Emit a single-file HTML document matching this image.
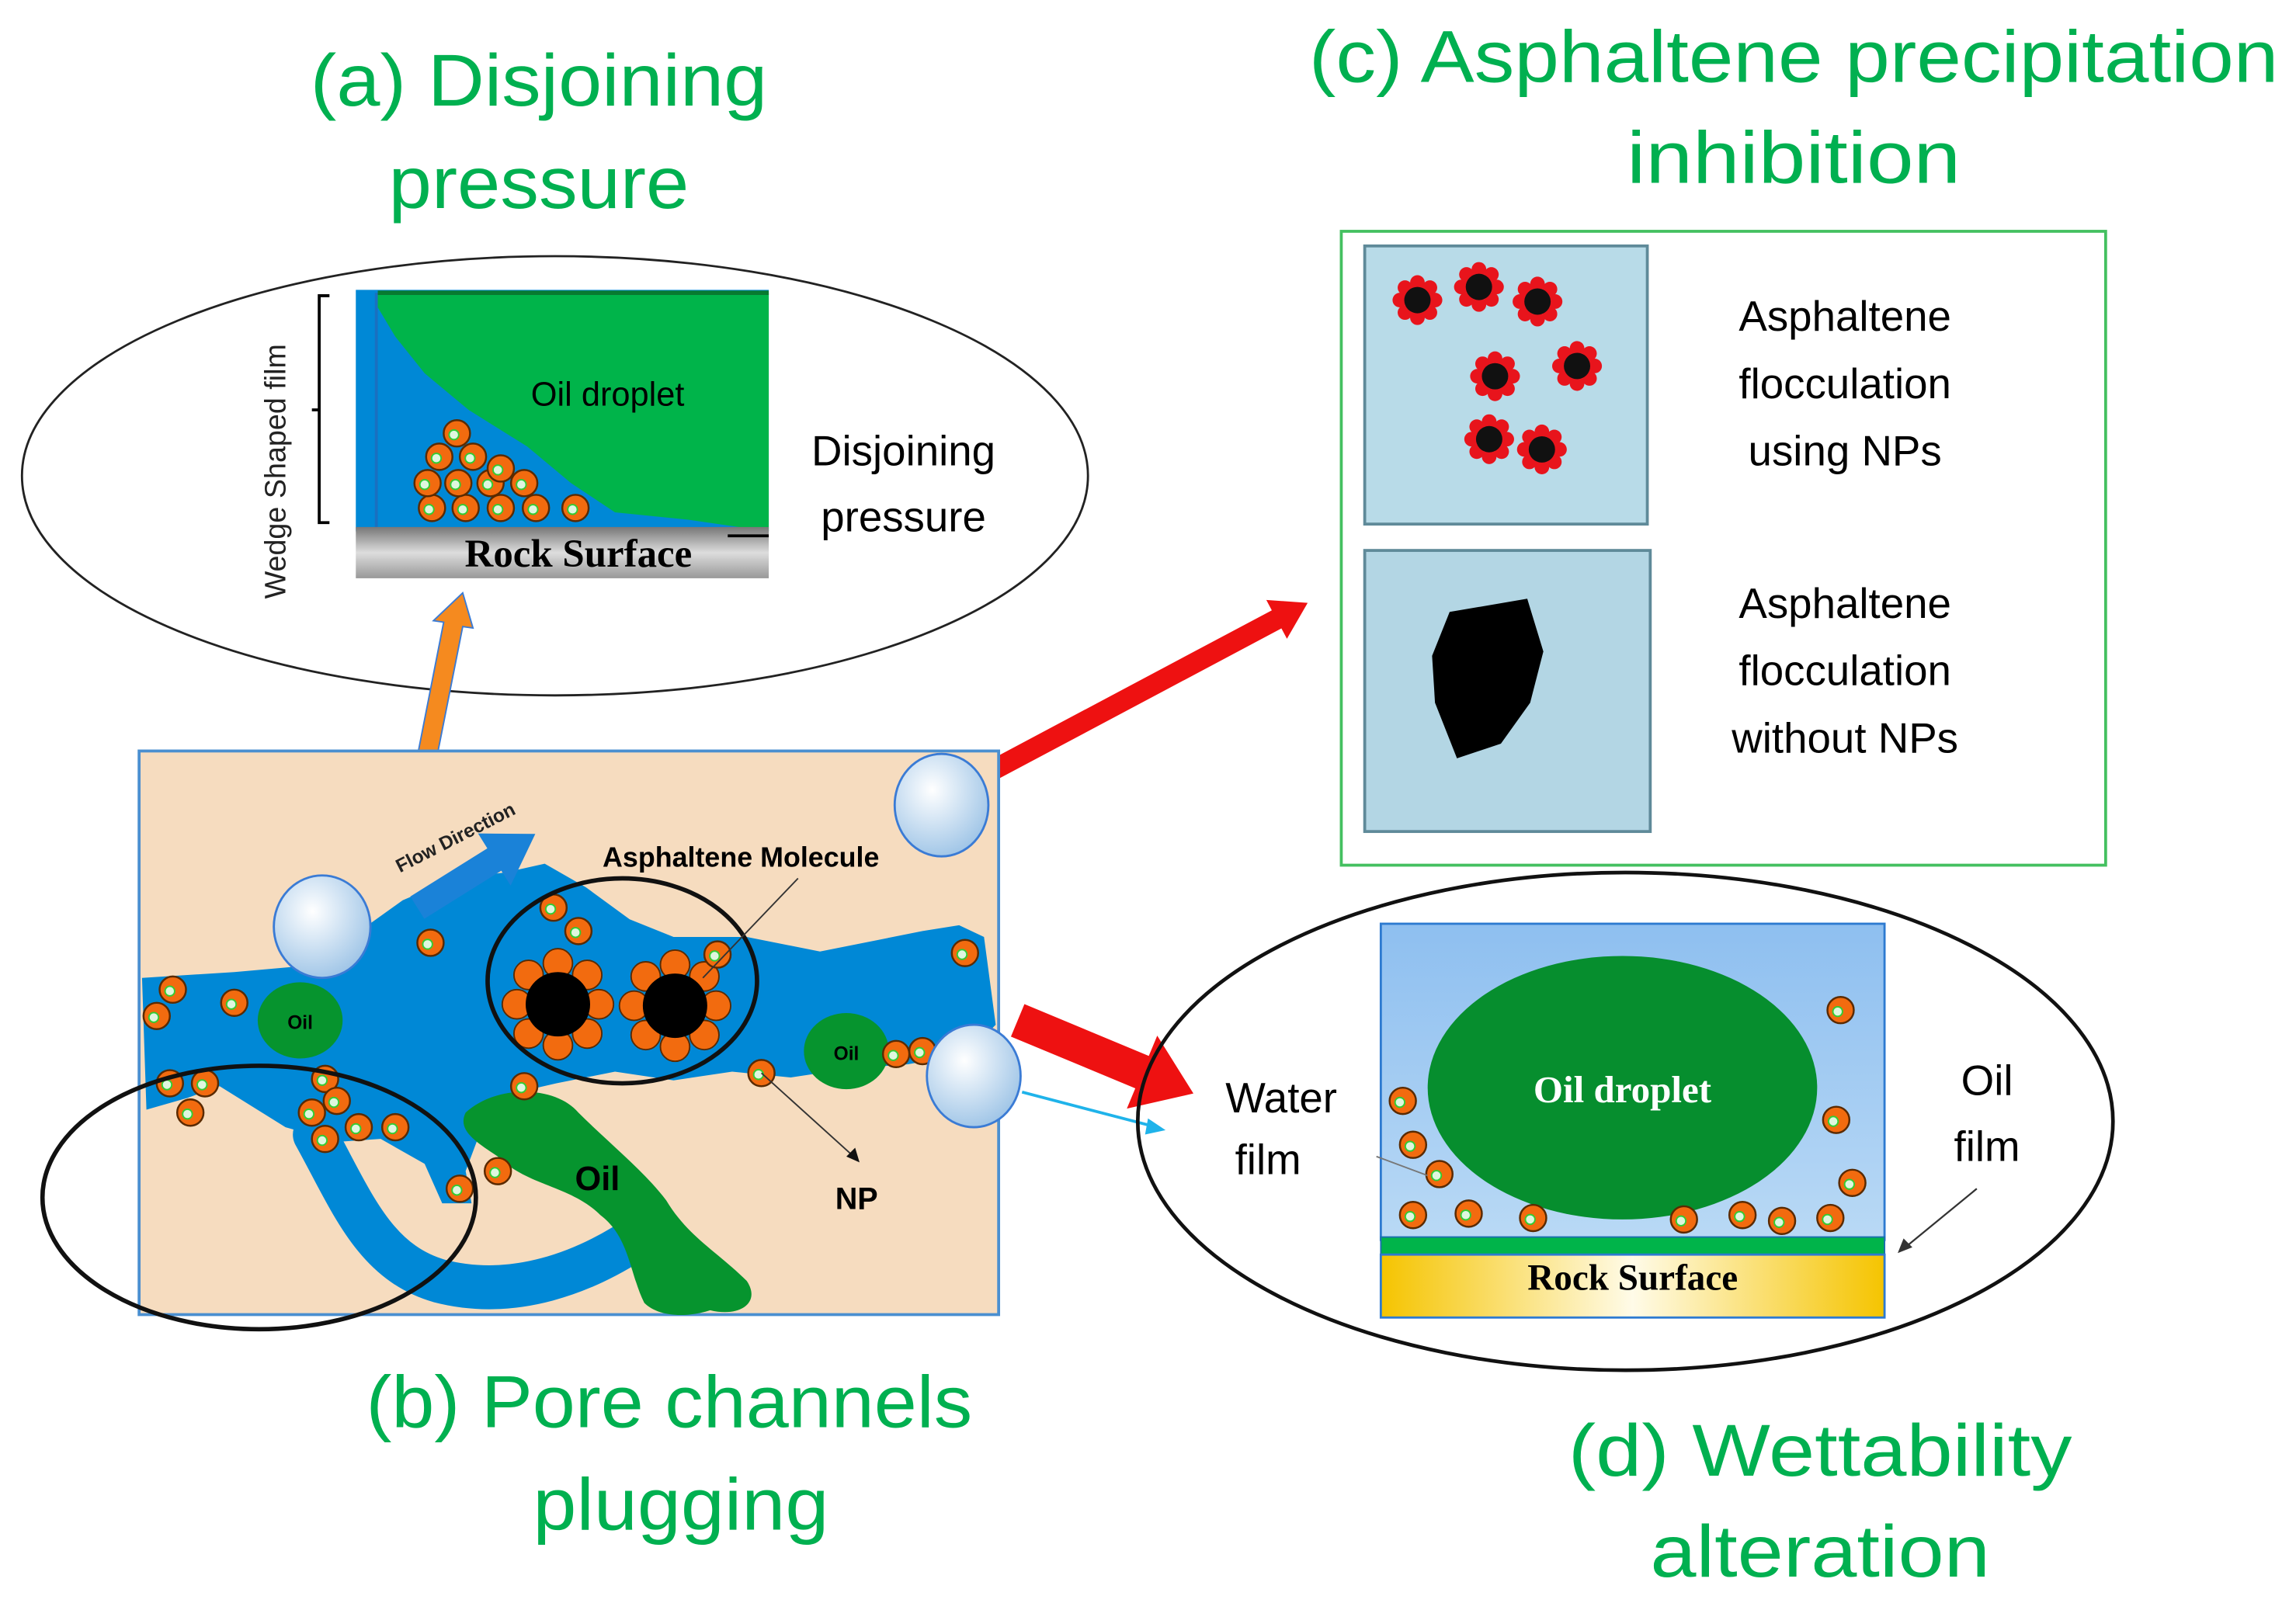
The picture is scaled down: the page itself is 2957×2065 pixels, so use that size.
<!DOCTYPE html>
<html><head><meta charset="utf-8"><style>html,body{margin:0;padding:0;background:#fff}svg{display:block}</style></head>
<body>
<svg width="2957" height="2065" viewBox="0 0 1568 1095" preserveAspectRatio="none" xmlns="http://www.w3.org/2000/svg" font-family="'Liberation Sans', sans-serif">
<defs>
<g id="np"><circle r="9" fill="#f26b0f" stroke="#5a2a00" stroke-width="1.3"/><circle cx="-2" cy="1" r="3.3" fill="#dff7df" stroke="#3c3" stroke-width="1"/></g>
<g id="fl"><g fill="#e8141c"><circle cx="12" cy="0" r="5"/><circle cx="-12" cy="0" r="5"/><circle cx="0" cy="12" r="5"/><circle cx="0" cy="-12" r="5"/><circle cx="8.5" cy="8.5" r="5"/><circle cx="-8.5" cy="8.5" r="5"/><circle cx="8.5" cy="-8.5" r="5"/><circle cx="-8.5" cy="-8.5" r="5"/></g><circle r="9" fill="#111"/></g>
<g id="asp"><g fill="#f26b0f" stroke="#5a2a00" stroke-width="1"><circle cx="28" cy="0" r="10"/><circle cx="-28" cy="0" r="10"/><circle cx="0" cy="28" r="10"/><circle cx="0" cy="-28" r="10"/><circle cx="20" cy="20" r="10"/><circle cx="-20" cy="20" r="10"/><circle cx="20" cy="-20" r="10"/><circle cx="-20" cy="-20" r="10"/></g><circle r="22" fill="#000"/></g>
<radialGradient id="bub" cx="0.4" cy="0.35" r="0.7"><stop offset="0" stop-color="#ffffff"/><stop offset="1" stop-color="#9cc3e6"/></radialGradient>
<linearGradient id="rock" x1="0" y1="0" x2="0" y2="1"><stop offset="0" stop-color="#777"/><stop offset="0.5" stop-color="#ddd"/><stop offset="1" stop-color="#999"/></linearGradient>
<linearGradient id="yel" x1="0" y1="0" x2="1" y2="0"><stop offset="0" stop-color="#f5c400"/><stop offset="0.5" stop-color="#fffbe8"/><stop offset="1" stop-color="#f5c400"/></linearGradient>
<linearGradient id="wat" x1="0" y1="0" x2="0" y2="1"><stop offset="0" stop-color="#8ebff0"/><stop offset="1" stop-color="#b9d9f5"/></linearGradient>
</defs>

<g fill="#00b050" font-size="50" text-anchor="middle">
<text x="368" y="72" textLength="312" lengthAdjust="spacingAndGlyphs">(a) Disjoining</text>
<text x="368" y="142" textLength="205" lengthAdjust="spacingAndGlyphs">pressure</text>
<text x="1225" y="56" textLength="662" lengthAdjust="spacingAndGlyphs">(c) Asphaltene precipitation</text>
<text x="1225" y="125" textLength="228" lengthAdjust="spacingAndGlyphs">inhibition</text>
<text x="457" y="975" textLength="414" lengthAdjust="spacingAndGlyphs">(b) Pore channels</text>
<text x="465" y="1045" textLength="202" lengthAdjust="spacingAndGlyphs">plugging</text>
<text x="1243" y="1008" textLength="344" lengthAdjust="spacingAndGlyphs">(d) Wettability</text>
<text x="1243" y="1077" textLength="232" lengthAdjust="spacingAndGlyphs">alteration</text>
</g>

<!-- panel a -->
<ellipse cx="379" cy="325" rx="364" ry="150" fill="none" stroke="#222" stroke-width="1.5"/>
<rect x="243" y="198" width="282" height="165" fill="#0088d6"/>
<line x1="257" y1="200" x2="257" y2="360" stroke="#1a70c0" stroke-width="2"/>
<path d="M258,200 L525,200 L525,363 L470,355 L420,350 L390,330 L360,305 L320,280 L290,255 L270,230 L258,210 Z" fill="#00b44a"/>
<line x1="258" y1="200" x2="525" y2="200" stroke="#087a30" stroke-width="3"/>
<rect x="243" y="360" width="282" height="35" fill="url(#rock)"/>
<text x="395" y="387" font-family="'Liberation Serif', serif" font-weight="bold" font-size="27" text-anchor="middle">Rock Surface</text>
<line x1="497" y1="366" x2="525" y2="366" stroke="#000" stroke-width="2"/>
<text x="415" y="277" font-size="23" text-anchor="middle">Oil droplet</text>
<g>
<use href="#np" x="295" y="347"/><use href="#np" x="318" y="347"/><use href="#np" x="342" y="347"/><use href="#np" x="366" y="347"/><use href="#np" x="393" y="347"/>
<use href="#np" x="292" y="330"/><use href="#np" x="313" y="330"/><use href="#np" x="335" y="330"/><use href="#np" x="358" y="330"/>
<use href="#np" x="300" y="312"/><use href="#np" x="323" y="312"/><use href="#np" x="342" y="320"/>
<use href="#np" x="312" y="296"/>
</g>
<path d="M225,202 L218,202 L218,357 L225,357 M218,280 L213,280" fill="none" stroke="#000" stroke-width="2"/>
<text transform="translate(195,322) rotate(-90)" font-size="20" text-anchor="middle" fill="#222">Wedge Shaped film</text>
<text x="617" y="318" font-size="29" text-anchor="middle">Disjoining</text>
<text x="617" y="363" font-size="29" text-anchor="middle">pressure</text>

<path d="M283,527 L303,425 L296,424 L316,405 L323,429 L316,428 L296,529 Z" fill="#f58a1f" stroke="#3a7bd5" stroke-width="1"/>

<!-- red arrows -->
<path transform="translate(667,532) rotate(-28)" d="M0,-7 L232,-7 L232,-15 L256,0 L232,15 L232,7 L0,7 Z" fill="#ee1111"/>
<path transform="translate(695,697) rotate(22.6)" d="M0,-12 L92,-12 L92,-27 L130,0 L92,27 L92,12 L0,12 Z" fill="#ee1111"/>
<line x1="698" y1="746" x2="790" y2="770" stroke="#1fb3ea" stroke-width="2"/>
<path d="M796,772 L784,764 L782,775 Z" fill="#1fb3ea"/>

<!-- panel c -->
<rect x="916" y="158" width="522" height="433" fill="#fff" stroke="#44c060" stroke-width="2"/>
<rect x="932" y="168" width="193" height="190" fill="#b8dbe8" stroke="#5f8a99" stroke-width="2"/>
<rect x="932" y="376" width="195" height="192" fill="#b3d6e4" stroke="#5f8a99" stroke-width="2"/>
<use href="#fl" x="968" y="205"/><use href="#fl" x="1010" y="196"/><use href="#fl" x="1050" y="206"/>
<use href="#fl" x="1021" y="257"/><use href="#fl" x="1077" y="250"/><use href="#fl" x="1017" y="300"/><use href="#fl" x="1053" y="307"/>
<path d="M990,418 L1043,409 L1054,445 L1045,480 L1025,508 L995,518 L980,480 L978,448 Z" fill="#000"/>
<g font-size="29" text-anchor="middle">
<text x="1260" y="226">Asphaltene</text><text x="1260" y="272">flocculation</text><text x="1260" y="318">using NPs</text>
<text x="1260" y="422">Asphaltene</text><text x="1260" y="468">flocculation</text><text x="1260" y="514">without NPs</text>
</g>

<!-- panel d -->
<ellipse cx="1110" cy="766" rx="333" ry="170" fill="none" stroke="#111" stroke-width="2.5"/>
<rect x="943" y="631" width="344" height="216" fill="url(#wat)" stroke="#2d7ad0" stroke-width="1.5"/>
<ellipse cx="1108" cy="743" rx="133" ry="90" fill="#068e2e"/>
<text x="1108" y="753" font-family="'Liberation Serif', serif" font-weight="bold" font-size="26" text-anchor="middle" fill="#fff">Oil droplet</text>
<rect x="943" y="845" width="344" height="12" fill="#00b44a" stroke="#1a6fb0" stroke-width="1"/>
<rect x="943" y="857" width="344" height="43" fill="url(#yel)" stroke="#2d7ad0" stroke-width="1.5"/>
<text x="1115" y="881" font-family="'Liberation Serif', serif" font-weight="bold" font-size="25" text-anchor="middle">Rock Surface</text>
<use href="#np" x="1257" y="690"/><use href="#np" x="958" y="752"/><use href="#np" x="965" y="782"/><use href="#np" x="983" y="802"/>
<use href="#np" x="965" y="830"/><use href="#np" x="1003" y="829"/><use href="#np" x="1047" y="832"/><use href="#np" x="1150" y="833"/>
<use href="#np" x="1190" y="830"/><use href="#np" x="1217" y="834"/><use href="#np" x="1250" y="832"/><use href="#np" x="1265" y="808"/><use href="#np" x="1254" y="765"/>
<g font-size="29" text-anchor="middle">
<text x="875" y="760">Water</text><text x="866" y="802">film</text>
<text x="1357" y="748">Oil</text><text x="1357" y="793">film</text>
</g>
<line x1="940" y1="790" x2="975" y2="803" stroke="#777" stroke-width="1"/>
<line x1="1350" y1="812" x2="1300" y2="853" stroke="#333" stroke-width="1.2"/>
<path d="M1296,856 L1300,846 L1306,852 Z" fill="#333"/>

<!-- panel b -->
<rect x="95" y="513" width="587" height="385" fill="#f6dcbf" stroke="#4a8fd0" stroke-width="2"/>
<path d="M97,668 L160,664 L205,660 L240,640 L275,615 L310,600 L345,596 L372,590 L400,606 L430,628 L460,640 L510,640 L560,650 L600,642 L630,636 L655,632 L672,640 L680,700 L660,720 L620,727 L580,730 L540,736 L500,732 L460,738 L420,732 L380,740 L345,748 L330,768 L318,800 L322,822 L302,822 L290,795 L260,778 L230,780 L195,770 L150,742 L128,750 L100,758 Z" fill="#0088d6"/>
<path d="M215,775 C240,820 255,862 300,875 C350,888 400,870 440,842" fill="none" stroke="#0088d6" stroke-width="30" stroke-linecap="round"/>
<path d="M318,760 C340,740 380,742 395,760 C415,780 440,800 455,820 C470,845 490,855 510,875 C520,890 505,900 485,895 C470,900 450,900 440,890 C430,870 430,845 410,830 C390,810 360,810 340,790 C325,780 312,772 318,760 Z" fill="#06942e"/>
<text x="408" y="813" font-size="23" font-weight="bold" text-anchor="middle">Oil</text>
<ellipse cx="205" cy="697" rx="29" ry="26" fill="#06942e"/><text x="205" y="703" font-size="13" font-weight="bold" text-anchor="middle">Oil</text>
<ellipse cx="578" cy="718" rx="29" ry="26" fill="#06942e"/><text x="578" y="724" font-size="13" font-weight="bold" text-anchor="middle">Oil</text>
<use href="#asp" x="381" y="686"/><use href="#asp" x="461" y="687"/>
<g>
<use href="#np" x="118" y="676"/><use href="#np" x="107" y="694"/><use href="#np" x="160" y="685"/><use href="#np" x="294" y="644"/>
<use href="#np" x="378" y="620"/><use href="#np" x="395" y="636"/><use href="#np" x="490" y="652"/><use href="#np" x="659" y="651"/>
<use href="#np" x="116" y="740"/><use href="#np" x="140" y="740"/><use href="#np" x="130" y="760"/><use href="#np" x="222" y="737"/>
<use href="#np" x="213" y="760"/><use href="#np" x="230" y="752"/><use href="#np" x="245" y="770"/><use href="#np" x="270" y="770"/>
<use href="#np" x="222" y="778"/><use href="#np" x="358" y="742"/><use href="#np" x="520" y="733"/><use href="#np" x="340" y="800"/>
<use href="#np" x="314" y="812"/><use href="#np" x="612" y="720"/><use href="#np" x="630" y="718"/>
</g>
<ellipse cx="425" cy="670" rx="92" ry="70" fill="none" stroke="#111" stroke-width="3"/>
<ellipse cx="177" cy="818" rx="148" ry="90" fill="none" stroke="#111" stroke-width="3"/>
<path transform="translate(285,620) rotate(-32)" d="M0,-9 L62,-9 L62,-21 L95,0 L62,21 L62,9 L0,9 Z" fill="#1a82d8"/>
<text transform="translate(313,576) rotate(-27)" font-size="13" font-weight="bold" text-anchor="middle" fill="#222">Flow Direction</text>
<text x="506" y="592" font-size="19" font-weight="bold" text-anchor="middle">Asphaltene Molecule</text>
<line x1="545" y1="600" x2="480" y2="668" stroke="#333" stroke-width="1"/>
<line x1="520" y1="733" x2="583" y2="790" stroke="#333" stroke-width="1"/>
<path d="M587,794 L578,790 L584,784 Z" fill="#111"/>
<text x="585" y="826" font-size="21" font-weight="bold" text-anchor="middle">NP</text>
<ellipse cx="220" cy="633" rx="33" ry="35" fill="url(#bub)" stroke="#3a7bd5" stroke-width="1.5"/>
<ellipse cx="643" cy="550" rx="32" ry="35" fill="url(#bub)" stroke="#3a7bd5" stroke-width="1.5"/>
<ellipse cx="665" cy="735" rx="32" ry="35" fill="url(#bub)" stroke="#3a7bd5" stroke-width="1.5"/>
</svg>
</body></html>
